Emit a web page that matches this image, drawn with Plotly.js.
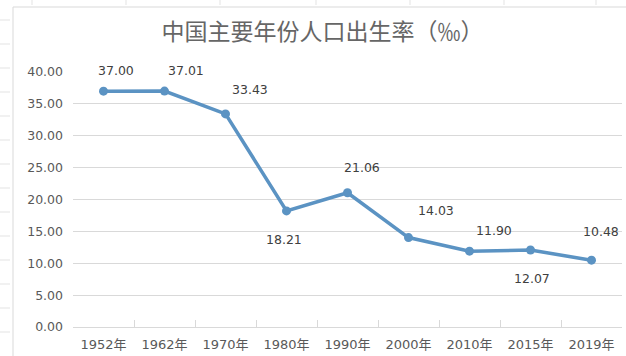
<!DOCTYPE html>
<html>
<head>
<meta charset="utf-8">
<script src="https://cdn.plot.ly/plotly-3.0.1.min.js"></script>
<style>html,body{margin:0;padding:0;background:#fff;}#chart{width:626px;height:356px;}</style>
</head>
<body>
<div id="chart"></div>
<script>
const years = ['1952年','1962年','1970年','1980年','1990年','2000年','2010年','2015年','2019年'];
const birthRates = [37.00, 37.01, 33.43, 18.21, 21.06, 14.03, 11.90, 12.07, 10.48];
const yTickVals = [0, 5, 10, 15, 20, 25, 30, 35, 40];
const chartTitle = '中国主要年份人口出生率（‰）';

// label offsets (px) relative to each point
const labelDX = [12, 21, 24, -3, 14, 27, 24, 1, 9];
const labelDY = [21, 21, 24, -29, 25, 27, 21, -28, 29];

const grey = '#595959';
const lineColor = '#5b93c3';
const numFont = 'DejaVu Sans, Noto Sans CJK SC, sans-serif';

const annotations = years.map((y, i) => ({
  x: y, y: birthRates[i], xref: 'x', yref: 'y',
  text: birthRates[i].toFixed(2), showarrow: false,
  xshift: labelDX[i], yshift: labelDY[i],
  font: {family: numFont, size: 12.5, color: '#404040'}
}));

// faint spreadsheet cell lines outside the chart area + chart border
const shapes = [
  {type:'rect', xref:'paper', yref:'paper', x0:-60/549, x1:700/549, y0:(327-7)/255, y1:-40/255,
   line:{color:'#d9d9d9', width:1}, fillcolor:'rgba(0,0,0,0)', layer:'below'}
];
const leftTicks = [20, 44, 68, 92, 116, 140, 164, 188, 212, 236, 260, 284, 308, 332];
leftTicks.forEach(py => shapes.push({type:'line', xref:'paper', yref:'paper',
  x0:(0-73)/549, x1:(10-73)/549, y0:(327-py)/255, y1:(327-py)/255, line:{color:'#e3e3e3', width:1}}));
const topTicks = [32, 126, 220, 316, 410, 504, 596];
topTicks.forEach(px => shapes.push({type:'line', xref:'paper', yref:'paper',
  x0:(px-73)/549, x1:(px-73)/549, y0:(327-0)/255, y1:(327-5)/255, line:{color:'#e3e3e3', width:1}}));

const trace = {
  x: years, y: birthRates, type: 'scatter', mode: 'lines+markers',
  line: {color: lineColor, width: 3.5},
  marker: {color: lineColor, size: 9},
  hoverinfo: 'skip'
};

const layout = {
  width: 626, height: 356,
  margin: {l: 73, r: 4, t: 72, b: 29},
  paper_bgcolor: '#fff', plot_bgcolor: '#fff',
  showlegend: false,
  title: {text: chartTitle, x: 0.515, xanchor: 'center', y: 0.91, yanchor: 'middle',
          font: {family: 'Noto Sans CJK SC, sans-serif', size: 23, color: '#666666'}},
  xaxis: {
    type: 'category', tickson: 'boundaries', ticks: 'inside', ticklen: 7,
    tickcolor: '#d9d9d9', showline: true, linecolor: '#d9d9d9', linewidth: 1,
    showgrid: false, zeroline: false, range: [-0.5, 8.5],
    tickfont: {family: numFont, size: 13, color: grey},
    ticklabelstandoff: 5, fixedrange: true
  },
  yaxis: {
    range: [0, 40], tickvals: yTickVals, tickformat: '.2f',
    showgrid: true, gridcolor: '#d9d9d9', gridwidth: 1,
    zeroline: false, showline: false, ticks: '',
    tickfont: {family: numFont, size: 12.5, color: grey},
    ticklabelstandoff: 9, fixedrange: true
  },
  annotations: annotations,
  shapes: shapes
};

Plotly.newPlot('chart', [trace], layout, {displayModeBar: false, staticPlot: true});
</script>
</body>
</html>
